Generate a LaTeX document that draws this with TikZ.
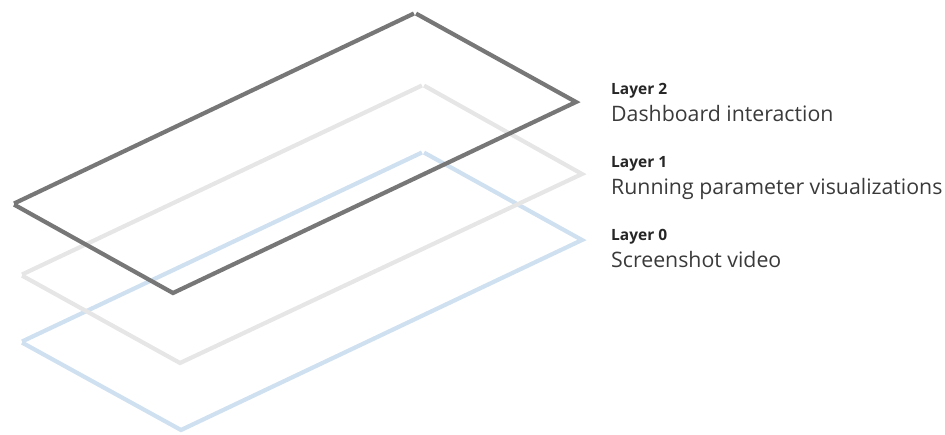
\documentclass[tikz,border=0pt]{standalone}
\usepackage{fontspec}
\setmainfont{Open Sans}
\definecolor{darkline}{HTML}{777777}
\definecolor{greyline}{HTML}{E6E6E6}
\definecolor{blueline}{HTML}{CFE0F1}
\definecolor{titletext}{HTML}{262626}
\definecolor{labeltext}{HTML}{3A3A3A}
\tikzset{
  layer/.style={line width=4.2pt, line cap=butt, line join=miter,
    shorten <=1.2pt, shorten >=1.2pt},
  title/.style={anchor=base west, inner sep=0pt, text=titletext,
    font=\fontsize{15.5}{18}\selectfont\bfseries},
  caption/.style={anchor=base west, inner sep=0pt, text=labeltext,
    font=\fontsize{21.3}{25}\selectfont}
}
\begin{document}
\begin{tikzpicture}[x=1pt, y=-1pt]
  \useasboundingbox (0,0) rectangle (945,434);
  % corners of the three sheets
  \coordinate (l0t) at (423,152);
  \coordinate (l0r) at (582,240);
  \coordinate (l0b) at (181,430);
  \coordinate (l0l) at (21,342);
  \coordinate (l1t) at (423,85);
  \coordinate (l1r) at (582,174);
  \coordinate (l1b) at (180,363);
  \coordinate (l1l) at (21,275);
  \coordinate (l2t) at (415,13);
  \coordinate (l2r) at (576,102);
  \coordinate (l2b) at (173,293);
  \coordinate (l2l) at (13,204);
  \begin{scope}[layer]
    \draw[blueline] (l0t) -- (l0r) -- (l0b) -- (l0l);
    \draw[blueline] (l0l) -- (l0t);
    \draw[greyline] (l1t) -- (l1r) -- (l1b) -- (l1l);
    \draw[greyline] (l1l) -- (l1t);
    \draw[darkline] (l2t) -- (l2r) -- (l2b) -- (l2l);
    \draw[darkline] (l2l) -- (l2t);
  \end{scope}
  % labels
  \node[title] (t2) at (611,94) {Layer 2};
  \node[caption] (c2) at (611,121.5) {Dashboard interaction};
  \node[title] (t1) at (611,167) {Layer 1};
  \node[caption] (c1) at (611,194.5) {Running parameter visualizations};
  \node[title] (t0) at (611,240) {Layer 0};
  \node[caption] (c0) at (611,267) {Screenshot video};
\end{tikzpicture}
\end{document}
